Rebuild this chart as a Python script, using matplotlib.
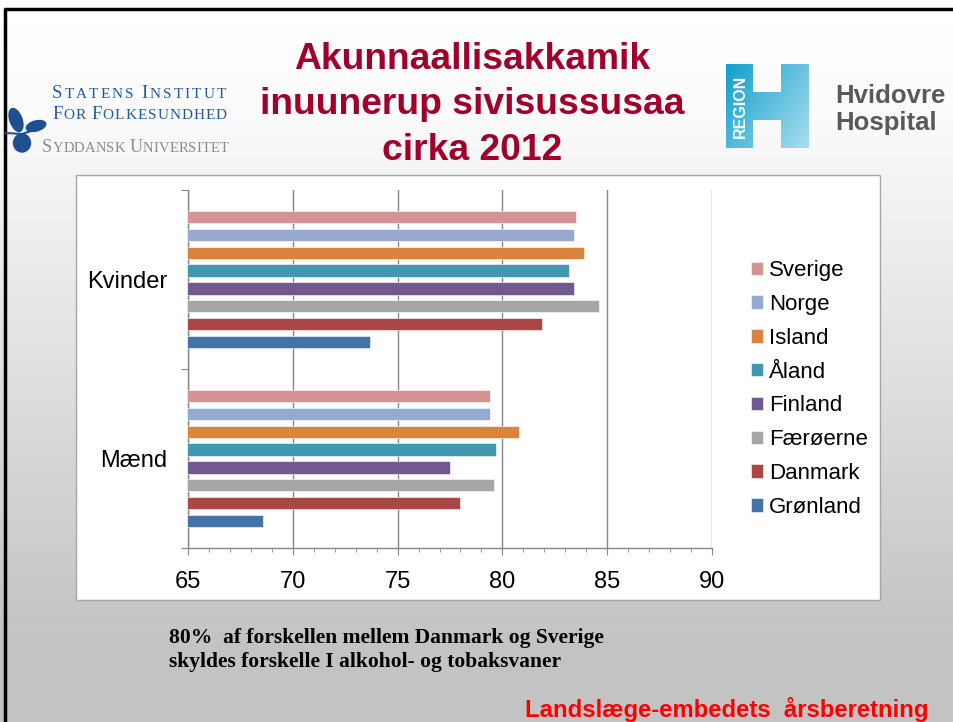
import numpy as np
import matplotlib.pyplot as plt
from matplotlib.patches import Rectangle, Polygon, Ellipse
from matplotlib.colors import LinearSegmentedColormap

# Life expectancy at birth, around 2012
groups = ['Mænd', 'Kvinder']
countries = ['Sverige', 'Norge', 'Island', 'Åland', 'Finland',
             'Færøerne', 'Danmark', 'Grønland']
kvinder = [83.5, 83.4, 83.9, 83.2, 83.4, 84.6, 81.9, 73.7]
maend = [79.4, 79.4, 80.8, 79.7, 77.5, 79.6, 78.0, 68.6]
colors = ['#D59393', '#95A9D1', '#DB843D', '#4298AF', '#71588F',
          '#A6A6A6', '#AA4643', '#4572A7']
x_ticks = [65, 70, 75, 80, 85, 90]

W, H = 954, 722
fig = plt.figure(figsize=(W / 100, H / 100), dpi=100)
renderer = fig.canvas.get_renderer()

# slide background drawn in pixel coordinates
bg = fig.add_axes([0, 0, 1, 1], zorder=0)
bg.set_xlim(0, W)
bg.set_ylim(H, 0)
bg.axis('off')
shade = np.interp(np.arange(H), [0, 120, 620, H], [1.0, 0.98, 0.77, 0.765])
grad = np.repeat(shade[:, None], 2, axis=1)
bg.imshow(grad, cmap='gray', vmin=0, vmax=1, extent=(0, W, H, 0), aspect='auto')
bg.plot([4, W], [8.5, 8.5], color='black', lw=2.5, solid_capstyle='butt')
bg.plot([5, 5], [8, H], color='black', lw=2.5, solid_capstyle='butt')

# white chart box
bg.add_patch(Rectangle((76, 175), 804, 425, facecolor='white', edgecolor='#A6A6A6', lw=1))

# title
title_lines = ['Akunnaallisakkamik', 'inuunerup sivisussusaa', 'cirka 2012']
for i, line in enumerate(title_lines):
    bg.text(472, 69 + i * 45.5, line, ha='center', va='baseline', fontsize=26.8,
            fontweight='bold', color='#A0002A', family='Liberation Sans')


def small_caps(x, y, words, big, small, color, track=0.0):
    # fake small caps: first letter of each word large, the rest small
    for w in words:
        for j, ch in enumerate(w + ' '):
            size = big if j == 0 else small
            t = bg.text(x, y, ch, ha='left', va='baseline', fontsize=size,
                        color=color, family='Liberation Serif')
            x += t.get_window_extent(renderer).width + track


# left logo: Statens Institut for Folkesundhed
blue = '#1F5B9B'
small_caps(52, 98, ['STATENS', 'INSTITUT'], 13.5, 11, blue, track=2.1)
small_caps(52, 119, ['FOR', 'FOLKESUNDHED'], 13.5, 11, blue, track=1.0)
small_caps(42, 152, ['SYDDANSK', 'UNIVERSITET'], 13, 10.5, '#8C8C8C', track=0.2)
leaf = '#1E4F91'
bg.plot([6, 22, 40], [133, 134, 128], color=leaf, lw=1.5)
bg.add_patch(Ellipse((16, 120), 12, 24, angle=-20, color=leaf))
bg.add_patch(Ellipse((36, 126), 20, 10, angle=-15, color=leaf))
bg.add_patch(Ellipse((22, 143), 17, 18, color=leaf))

# right logo: Region H / Hvidovre Hospital
hx = [726, 753, 753, 781, 781, 809, 809, 781, 781, 753, 753, 726]
hy = [64, 64, 92, 92, 64, 64, 148, 148, 120, 120, 148, 148]
hpoly = Polygon(np.column_stack([hx, hy]), closed=True, facecolor='none', edgecolor='none')
bg.add_patch(hpoly)
gx, gy = np.meshgrid(np.linspace(0, 1, 60), np.linspace(0, 1, 60))
hgrad = 0.6 * gx + 0.4 * gy
im = bg.imshow(hgrad, cmap=LinearSegmentedColormap.from_list('regh', ['#0FA0CC', '#A9DDEE']),
               extent=(726, 809, 148, 64), aspect='auto', zorder=2)
im.set_clip_path(hpoly)
bg.text(740, 106, 'REGION', rotation=90, ha='center', va='center', fontsize=11.5,
        fontweight='bold', color='white', family='Liberation Sans', zorder=3)
bg.text(835, 103, 'Hvidovre', ha='left', va='baseline', fontsize=18.5,
        fontweight='bold', color='#58595B', family='Liberation Sans')
bg.text(835, 130, 'Hospital', ha='left', va='baseline', fontsize=18.5,
        fontweight='bold', color='#58595B', family='Liberation Sans')

# footnotes
bg.text(169, 642.7, '80%  af forskellen mellem Danmark og Sverige', ha='left',
        va='baseline', fontsize=15.5, fontweight='bold', family='Liberation Serif')
bg.text(169, 666.7, 'skyldes forskelle I alkohol- og tobaksvaner', ha='left',
        va='baseline', fontsize=15.5, fontweight='bold', family='Liberation Serif')
bg.text(929, 717, 'Landslæge-embedets  årsberetning', ha='right', va='baseline',
        fontsize=17.2, fontweight='bold', color='#FF0000', family='Liberation Sans')

# bar chart
ax = fig.add_axes([188 / W, 1 - 548 / H, 524 / W, 358 / H], zorder=2)
ax.set_facecolor('none')
ypos = np.arange(len(groups))
step = 0.1
bar_h = 0.068
handles = []
for i, name in enumerate(countries):
    vals = [maend[i], kvinder[i]]
    off = 0.35 - step * i
    b = ax.barh(ypos + off, vals, height=bar_h, color=colors[i], label=name,
                edgecolor='white', linewidth=0.4, zorder=3)
    handles.append(b)

ax.set_xlim(65, 90)
ax.set_ylim(-0.5, 1.5)
ax.set_xticks(x_ticks)
ax.set_xticklabels([str(t) for t in x_ticks])
ax.set_xticks(np.arange(65, 91, 1), minor=True)
ax.set_yticks([-0.5, 0.5, 1.5])
ax.set_yticklabels([])
ax.set_yticks(ypos, minor=True)
ax.set_yticklabels(groups, minor=True)

grey = '#868686'
ax.grid(axis='x', which='major', color=grey, lw=1, zorder=1)
for s in ['top', 'right']:
    ax.spines[s].set_visible(False)
for s in ['left', 'bottom']:
    ax.spines[s].set_color(grey)
    ax.spines[s].set_linewidth(1)
ax.tick_params(axis='x', which='major', length=5, color=grey, labelsize=17, pad=11.5)
ax.tick_params(axis='x', which='minor', length=3, color=grey)
ax.tick_params(axis='y', which='major', length=5, color=grey)
ax.tick_params(axis='y', which='minor', length=0, labelsize=17, pad=15)
for lab in ax.get_xticklabels() + ax.get_yticklabels(minor=True):
    lab.set_family('Liberation Sans')

leg = ax.legend(handles=handles, loc='center left', bbox_to_anchor=(740 / W, 1 - 389 / H),
                bbox_transform=fig.transFigure, frameon=False,
                prop={'family': 'Liberation Sans', 'size': 16},
                handlelength=0.55, handleheight=0.55, handletextpad=0.25,
                labelspacing=0.575, borderpad=0)

fig.savefig('out.png', dpi=100)
